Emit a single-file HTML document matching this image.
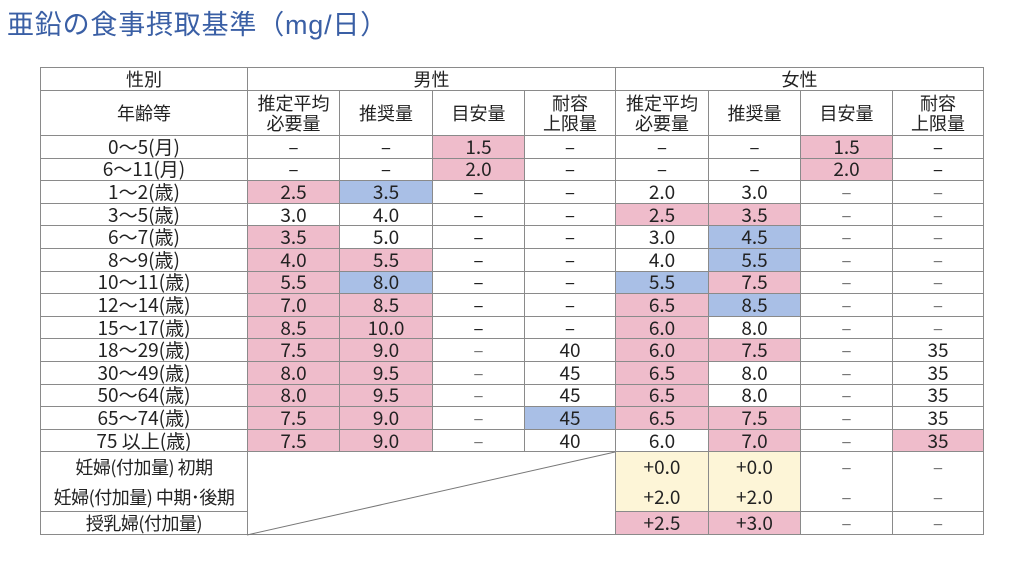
<!DOCTYPE html>
<html><head><meta charset="utf-8"><style>
html,body{margin:0;padding:0;background:#fff;width:1024px;height:576px;overflow:hidden;position:relative}
.t{position:absolute;left:7px;top:3px;font:27px "Liberation Sans","Noto Sans CJK JP",sans-serif;color:#3a5fa5;letter-spacing:0.8px}
table{position:absolute;left:40px;top:67px;border-collapse:collapse;table-layout:fixed;font-family:"Noto Sans CJK JP","Liberation Sans",sans-serif;color:#222}
td{border:1px solid #8a8a8a;padding:0;text-align:center;font-size:19px;line-height:20px;overflow:hidden;white-space:nowrap}
tr.d td{height:21.6px}
td.s{font-size:18px;line-height:20px}
td.l{font-size:18px;letter-spacing:-0.5px}
.p{background:#efbccb}.b{background:#a9bfe6}.y{background:#fdf5d7}
.g{color:#777}
tr.nb td.nt{border-top:none}
tr.n1 td.nbm{border-bottom:none}
svg{position:absolute;left:0;top:0}
</style></head><body>
<div class="t">亜鉛の食事摂取基準（mg/日）</div>
<table>
<colgroup><col style="width:207px"><col style="width:92px"><col style="width:93px"><col style="width:92px"><col style="width:91px"><col style="width:93px"><col style="width:92px"><col style="width:92px"><col style="width:91px"></colgroup>
<tr style="height:23px"><td class="s">性別</td><td colspan="4" class="s">男性</td><td colspan="4" class="s">女性</td></tr>
<tr style="height:45px"><td class="s">年齢等</td><td class="s">推定平均<br>必要量</td><td class="s">推奨量</td><td class="s">目安量</td><td class="s">耐容<br>上限量</td><td class="s">推定平均<br>必要量</td><td class="s">推奨量</td><td class="s">目安量</td><td class="s">耐容<br>上限量</td></tr>
<tr class="d"><td>0～5(月)</td><td>–</td><td>–</td><td class="p">1.5</td><td>–</td><td>–</td><td>–</td><td class="p">1.5</td><td>–</td></tr>
<tr class="d"><td>6～11(月)</td><td>–</td><td>–</td><td class="p">2.0</td><td>–</td><td>–</td><td>–</td><td class="p">2.0</td><td>–</td></tr>
<tr class="d"><td>1～2(歳)</td><td class="p">2.5</td><td class="b">3.5</td><td>–</td><td>–</td><td>2.0</td><td>3.0</td><td class="g">–</td><td class="g">–</td></tr>
<tr class="d"><td>3～5(歳)</td><td>3.0</td><td>4.0</td><td>–</td><td>–</td><td class="p">2.5</td><td class="p">3.5</td><td class="g">–</td><td class="g">–</td></tr>
<tr class="d"><td>6～7(歳)</td><td class="p">3.5</td><td>5.0</td><td>–</td><td>–</td><td>3.0</td><td class="b">4.5</td><td class="g">–</td><td class="g">–</td></tr>
<tr class="d"><td>8～9(歳)</td><td class="p">4.0</td><td class="p">5.5</td><td>–</td><td>–</td><td>4.0</td><td class="b">5.5</td><td class="g">–</td><td class="g">–</td></tr>
<tr class="d"><td>10～11(歳)</td><td class="p">5.5</td><td class="b">8.0</td><td>–</td><td>–</td><td class="b">5.5</td><td class="p">7.5</td><td class="g">–</td><td class="g">–</td></tr>
<tr class="d"><td>12～14(歳)</td><td class="p">7.0</td><td class="p">8.5</td><td>–</td><td>–</td><td class="p">6.5</td><td class="b">8.5</td><td class="g">–</td><td class="g">–</td></tr>
<tr class="d"><td>15～17(歳)</td><td class="p">8.5</td><td class="p">10.0</td><td>–</td><td>–</td><td class="p">6.0</td><td>8.0</td><td class="g">–</td><td class="g">–</td></tr>
<tr class="d"><td>18～29(歳)</td><td class="p">7.5</td><td class="p">9.0</td><td class="g">–</td><td>40</td><td class="p">6.0</td><td class="p">7.5</td><td class="g">–</td><td>35</td></tr>
<tr class="d"><td>30～49(歳)</td><td class="p">8.0</td><td class="p">9.5</td><td class="g">–</td><td>45</td><td class="p">6.5</td><td>8.0</td><td class="g">–</td><td>35</td></tr>
<tr class="d"><td>50～64(歳)</td><td class="p">8.0</td><td class="p">9.5</td><td class="g">–</td><td>45</td><td class="p">6.5</td><td>8.0</td><td class="g">–</td><td>35</td></tr>
<tr class="d"><td>65～74(歳)</td><td class="p">7.5</td><td class="p">9.0</td><td class="g">–</td><td class="b">45</td><td class="p">6.5</td><td class="p">7.5</td><td class="g">–</td><td>35</td></tr>
<tr class="d"><td>75 以上(歳)</td><td class="p">7.5</td><td class="p">9.0</td><td class="g">–</td><td>40</td><td>6.0</td><td class="p">7.0</td><td class="g">–</td><td class="p">35</td></tr>
<tr class="n1" style="height:30px"><td class="l nbm">妊婦(付加量) 初期</td><td colspan="4" rowspan="3"></td><td class="y nbm">+0.0</td><td class="y nbm">+0.0</td><td class="g nbm">–</td><td class="g nbm">–</td></tr>
<tr class="nb" style="height:30px"><td class="l nt">妊婦(付加量) 中期･後期</td><td class="y nt">+2.0</td><td class="y nt">+2.0</td><td class="g nt">–</td><td class="g nt">–</td></tr>
<tr style="height:23px"><td class="l">授乳婦(付加量)</td><td class="p">+2.5</td><td class="p">+3.0</td><td class="g">–</td><td class="g">–</td></tr>
</table>
<svg width="1024" height="576"><line x1="247" y1="535" x2="615" y2="452" stroke="#777" stroke-width="1"/></svg>
</body></html>
